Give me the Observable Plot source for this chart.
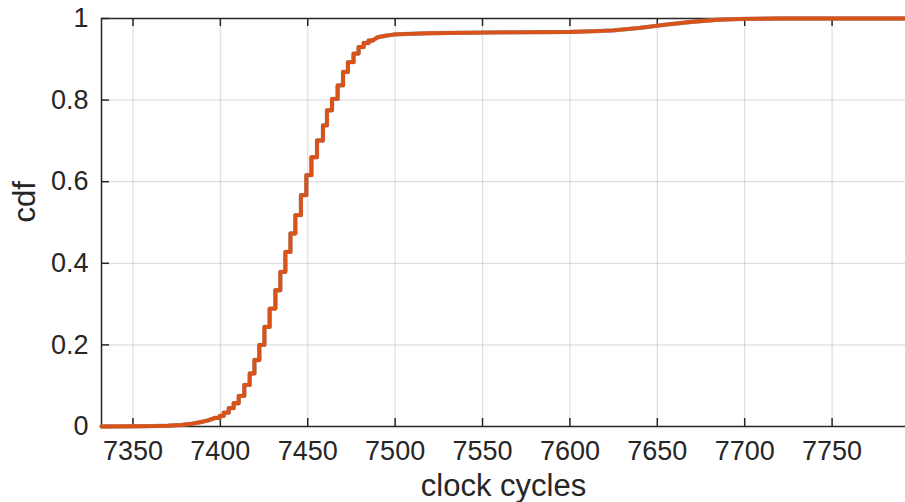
<!DOCTYPE html>
<html><head><meta charset="utf-8">
<script src="https://cdn.jsdelivr.net/npm/d3@7"></script>
<script src="https://cdn.jsdelivr.net/npm/@observablehq/plot@0.6"></script>
<style>body{margin:0;background:#fff}</style>
</head><body><div id="chart"></div>
<script>
// smooth lower tail of the CDF
const lowTailX = [7332, 7350, 7360, 7370, 7378, 7384, 7389, 7393, 7397];
const lowTailY = [0, 0.0005, 0.001, 0.002, 0.004, 0.007, 0.011, 0.015, 0.021];
// stepped central part (value = cdf level after each step)
const stepX = [7397, 7399.6, 7401.9, 7404.8, 7407.6, 7410.5, 7413.7, 7416.8, 7419.5, 7422.3, 7425.2,
  7428.2, 7431.5, 7434.3, 7437.2, 7440.1, 7442.9, 7446.1, 7449.2, 7452.1, 7455.3,
  7458.7, 7461.0, 7463.9, 7467.1, 7470.2, 7473.0, 7476.2, 7479.1, 7482.0, 7484.8, 7487];
const stepY = [0.021, 0.026, 0.034, 0.045, 0.057, 0.075, 0.102, 0.130, 0.163, 0.200, 0.244,
  0.289, 0.334, 0.379, 0.428, 0.473, 0.518, 0.567, 0.616, 0.660, 0.701,
  0.738, 0.775, 0.803, 0.836, 0.869, 0.893, 0.914, 0.930, 0.940, 0.946, 0.946];
// smooth upper tail
const highTailX = [7487, 7490, 7495, 7500, 7520, 7560, 7600, 7615, 7625, 7640, 7655, 7670, 7685, 7700, 7720, 7792];
const highTailY = [0.946, 0.954, 0.958, 0.961, 0.964, 0.966, 0.967, 0.969, 0.971, 0.977, 0.985, 0.992, 0.997, 0.999, 1, 1];

const xTicks = [7350, 7400, 7450, 7500, 7550, 7600, 7650, 7700, 7750];
const yTicks = [0, 0.2, 0.4, 0.6, 0.8, 1];
const xLabel = "clock cycles";
const yLabel = "cdf";

const low = lowTailX.map((x, i) => ({x, y: lowTailY[i]}));
const steps = stepX.map((x, i) => ({x, y: stepY[i]}));
const high = highTailX.map((x, i) => ({x, y: highTailY[i]}));

const ink = "#262626";
const orange = "#D95319";
const fmt = d => String(d);

const chart = Plot.plot({
  width: 905, height: 502,
  marginLeft: 101, marginRight: 0, marginTop: 18, marginBottom: 76,
  x: {domain: [7332, 7792]},
  y: {domain: [0, 1]},
  style: {fontFamily: "'Liberation Sans', Arial, sans-serif", fontSize: "27px", color: ink, background: "white"},
  marks: [
    Plot.gridX(xTicks, {stroke: ink, strokeOpacity: 0.15, strokeWidth: 1.2}),
    Plot.gridY(yTicks, {stroke: ink, strokeOpacity: 0.15, strokeWidth: 1.2}),
    Plot.ruleX([7332], {stroke: ink, strokeWidth: 1.5}),
    Plot.ruleY([0, 1], {stroke: ink, strokeWidth: 1.5}),
    Plot.tickX(xTicks, {x: d => d, insetTop: 400, stroke: ink, strokeWidth: 1.5}),
    Plot.tickX(xTicks, {x: d => d, insetBottom: 400, stroke: ink, strokeWidth: 1.5}),
    Plot.tickY(yTicks, {y: d => d, insetRight: 796, stroke: ink, strokeWidth: 1.5}),
    Plot.line(low, {x: "x", y: "y", stroke: "#7a7f98", strokeWidth: 4.3, strokeOpacity: 0.8, curve: "linear"}),
    Plot.line(steps, {x: "x", y: "y", stroke: "#7a7f98", strokeWidth: 4.3, strokeOpacity: 0.8, curve: "step-after"}),
    Plot.line(high, {x: "x", y: "y", stroke: "#7a7f98", strokeWidth: 4.3, strokeOpacity: 0.8, curve: "linear"}),
    Plot.line(low, {x: "x", y: "y", stroke: orange, strokeWidth: 3.9, curve: "linear"}),
    Plot.line(steps, {x: "x", y: "y", stroke: orange, strokeWidth: 3.9, curve: "step-after"}),
    Plot.line(high, {x: "x", y: "y", stroke: orange, strokeWidth: 3.9, curve: "linear"}),
    Plot.axisX(xTicks, {tickSize: 0, tickPadding: 14, tickFormat: fmt, fontSize: 27, label: null, fill: ink}),
    Plot.axisY(yTicks, {tickSize: 0, tickPadding: 13, tickFormat: fmt, fontSize: 27, label: null, fill: ink}),
    Plot.text([yLabel], {text: d => d, frameAnchor: "left", dx: -76, rotate: -90, fontSize: 31, fill: ink}),
    Plot.text([xLabel], {text: d => d, frameAnchor: "bottom", dy: 47, lineAnchor: "top", fontSize: 31, fill: ink})
  ]
});
document.getElementById("chart").appendChild(chart);
</script>
</body></html>
